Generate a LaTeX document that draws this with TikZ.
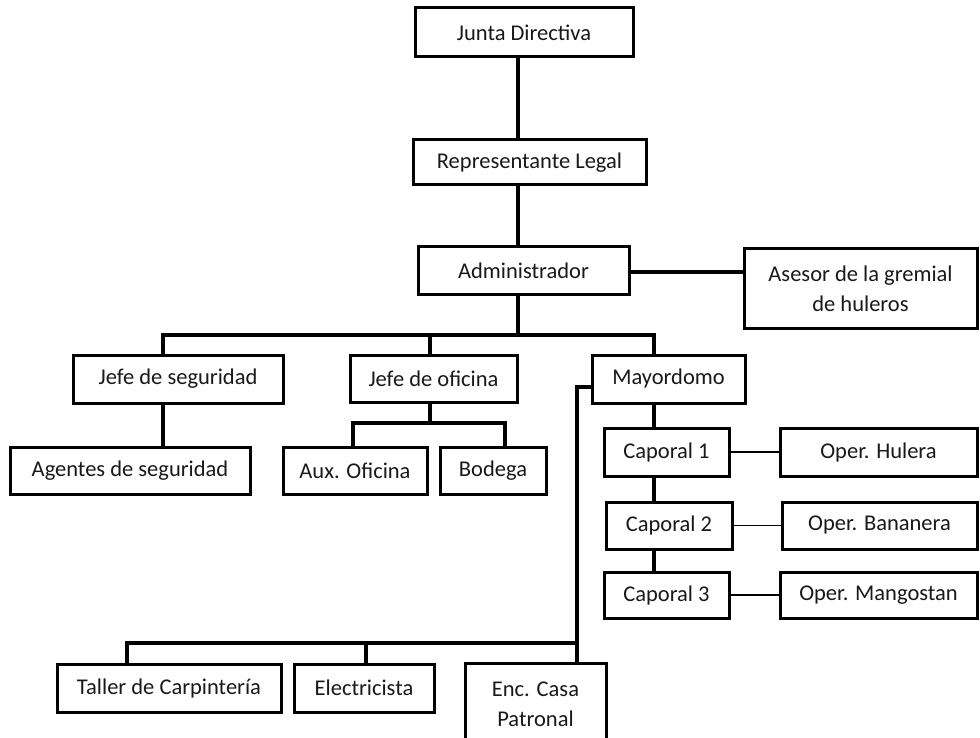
\documentclass[tikz,border=0pt]{standalone}
\usepackage{fontspec}
\setmainfont{Carlito}
\begin{document}
\begin{tikzpicture}[x=1pt,y=-1pt,
  box/.style={draw=black, line width=3pt, fill=white, inner sep=0pt, align=center,
    font=\fontsize{22.5}{30}\selectfont, text=black!90},
  thk/.style={line width=4.5pt},
  thn/.style={line width=1.8pt}]
\useasboundingbox[fill=white] (0,0) rectangle (980,738);

% boxes
\node[box, minimum width=218pt, minimum height=49pt] (junta) at (524,32.5) {Junta Directiva};
\node[box, minimum width=233pt, minimum height=45pt] (rep) at (529.5,162.5) {Representante Legal};
\node[box, minimum width=211pt, minimum height=47pt] (admin) at (523.5,270.5) {Administrador};
\node[box, minimum width=233pt, minimum height=79pt] (asesor) at (860.5,288.5) {Asesor de la gremial\\de huleros};
\node[box, minimum width=210pt, minimum height=48pt] (jseg) at (178,379) {Jefe de seguridad};
\node[box, minimum width=167pt, minimum height=47pt] (jofi) at (433.5,378.5) {Jefe de oficina};
\node[box, minimum width=153pt, minimum height=48pt] (mayor) at (668.5,379) {Mayordomo};
\node[box, minimum width=240pt, minimum height=47pt] (agentes) at (130,470.5) {Agentes de seguridad};
\node[box, minimum width=144pt, minimum height=47pt] (aux) at (355,470.5) {Aux. Oficina};
\node[box, minimum width=106pt, minimum height=47pt] (bodega) at (493,470.5) {Bodega};
\node[box, minimum width=125pt, minimum height=48pt] (cap1) at (666.5,452) {Caporal 1};
\node[box, minimum width=126pt, minimum height=47pt] (cap2) at (669,525.5) {Caporal 2};
\node[box, minimum width=125pt, minimum height=46pt] (cap3) at (666.5,595) {Caporal 3};
\node[box, minimum width=197pt, minimum height=48pt] (ophul) at (878.5,452) {Oper. Hulera};
\node[box, minimum width=195pt, minimum height=47pt] (opban) at (879.5,525.5) {Oper. Bananera};
\node[box, minimum width=197pt, minimum height=46pt] (opman) at (878.5,595) {Oper. Mangostan};
\node[box, minimum width=224pt, minimum height=48pt] (taller) at (169,688) {Taller de Carpintería};
\node[box, minimum width=140pt, minimum height=48pt] (elec) at (364,688) {Electricista};
\node[box, minimum width=141pt, minimum height=82pt] (enc) at (535.5,704) {Enc. Casa\\Patronal};

% junction coordinates
\coordinate (trunk) at (518,335);
\coordinate (sdrop) at (163,335);
\coordinate (odrop) at (430,335);
\coordinate (mdrop) at (654,335);
\coordinate (aux1) at (353,423);
\coordinate (bod1) at (505,423);
\coordinate (jb) at (577,643);
\coordinate (tdrop) at (127,643);

% thick connectors
\draw[thk] (junta.south -| trunk) -- (rep.north -| trunk);
\draw[thk] (rep.south -| trunk) -- (admin.north -| trunk);
\draw[thk] (admin.south -| trunk) -- (trunk);
\draw[thk] (sdrop |- jseg.north) -- (sdrop) -- (mdrop) -- (mdrop |- mayor.north);
\draw[thk] (odrop) -- (odrop |- jofi.north);
\draw[thk] (jseg.south -| sdrop) -- (sdrop |- agentes.north);
\draw[thk] (jofi.south -| odrop) -- (odrop |- aux1);
\draw[thk] (aux1 |- aux.north) -- (aux1) -- (bod1) -- (bod1 |- bodega.north);
\draw[thk] (mayor.south -| mdrop) -- (mdrop |- cap1.north);
\draw[thk] (cap1.south -| mdrop) -- (mdrop |- cap2.north);
\draw[thk] (cap2.south -| mdrop) -- (mdrop |- cap3.north);
\draw[thk] ([yshift=-1.5pt]admin.east) -- ([yshift=-1.5pt]admin.east -| asesor.west);
\draw[thk] ([yshift=-8pt]mayor.west) -| (jb |- enc.north);
\draw[thk] (tdrop |- taller.north) -- (tdrop) -- (jb);
\draw[thk] ([xshift=2pt]elec.north) -- ([xshift=2pt]elec.north |- jb);

% thin connectors
\draw[thn] (cap1.east) -- (ophul.west);
\draw[thn] (cap2.east) -- (opban.west);
\draw[thn] (cap3.east) -- (opman.west);
\end{tikzpicture}
\end{document}
